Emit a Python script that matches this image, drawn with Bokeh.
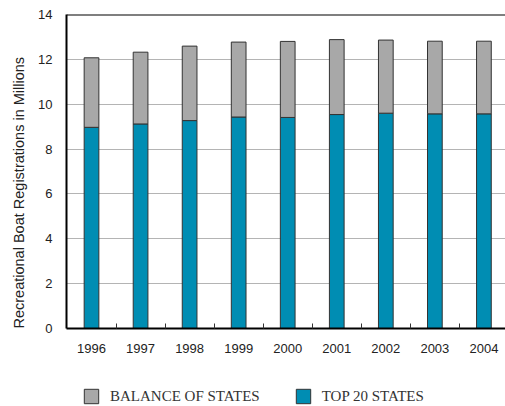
import math
from bokeh.plotting import figure
from bokeh.layouts import column
from bokeh.models import (ColumnDataSource, Range1d, FixedTicker, Legend, LegendItem,
                          Span, Title)
from bokeh.embed import file_html
from bokeh.resources import INLINE

years = [1996, 1997, 1998, 1999, 2000, 2001, 2002, 2003, 2004]
top20 = [8.97, 9.12, 9.27, 9.43, 9.41, 9.54, 9.60, 9.57, 9.57]
total = [12.07, 12.32, 12.59, 12.77, 12.80, 12.88, 12.86, 12.81, 12.81]
balance = [round(t - b, 2) for t, b in zip(total, top20)]
year_labels = [str(y) for y in years]
y_ticks = [0, 2, 4, 6, 8, 10, 12, 14]
series_names = ["TOP 20 STATES", "BALANCE OF STATES"]

BLUE = "#008db3"
GRAY = "#a8a8a8"
SANS = "Liberation Sans"

source = ColumnDataSource(dict(year=years, top20=top20, balance=balance))

p = figure(frame_width=439, frame_height=314, output_backend="svg", toolbar_location=None,
           x_range=Range1d(1995.49, 2004.44), y_range=Range1d(0, 14),
           min_border_left=66, min_border_top=14, min_border_right=0, min_border_bottom=30)

renderers = p.vbar_stack(["top20", "balance"], x="year", width=0.3, source=source,
                         fill_color=[BLUE, GRAY], line_color="#333333", line_width=1)

p.outline_line_color = None
p.background_fill_color = "white"
p.border_fill_color = "white"

# y axis
p.yaxis.ticker = FixedTicker(ticks=y_ticks)
p.yaxis.axis_line_color = "black"
p.yaxis.axis_line_width = 2
p.yaxis.major_tick_line_color = None
p.yaxis.minor_tick_line_color = None
p.yaxis.major_label_text_font = SANS
p.yaxis.major_label_text_font_size = "13px"
p.yaxis.major_label_text_color = "#222222"
p.yaxis.major_label_standoff = 8

# x axis
mids = [y + 0.5 for y in years[:-1]]
p.xaxis.ticker = FixedTicker(ticks=years, minor_ticks=mids)
p.xaxis.major_label_overrides = {y: l for y, l in zip(years, year_labels)}
p.xaxis.axis_line_color = "black"
p.xaxis.axis_line_width = 2
p.xaxis.major_tick_line_color = None
p.xaxis.minor_tick_line_color = "#333333"
p.xaxis.minor_tick_in = 5
p.xaxis.minor_tick_out = 0
p.xaxis.major_label_text_font = SANS
p.xaxis.major_label_text_font_size = "13px"
p.xaxis.major_label_text_color = "#222222"
p.xaxis.major_label_standoff = 9

p.xgrid.grid_line_color = None
p.ygrid.ticker = FixedTicker(ticks=y_ticks)
p.ygrid.grid_line_color = "#b4b4b4"
p.ygrid.grid_line_width = 1

p.add_layout(Span(location=14, dimension="width", line_color="black", line_width=2))

p.add_layout(Title(text="Recreational Boat Registrations in Millions", align="left",
                   offset=0, text_font=SANS, text_font_size="14.5px",
                   text_font_style="normal", text_color="#222222", standoff=17), "left")

# legend strip: same series drawn out of view, only the legend shows
p2 = figure(width=505, height=48, output_backend="svg", toolbar_location=None,
            x_range=p.x_range, y_range=Range1d(100, 101),
            x_axis_location=None, y_axis_location=None,
            min_border_left=0, min_border_right=0, min_border_top=0, min_border_bottom=0)
p2.outline_line_color = None
p2.xgrid.grid_line_color = None
p2.ygrid.grid_line_color = None
r2 = p2.vbar_stack(["top20", "balance"], x="year", width=0.3, source=source,
                   fill_color=[BLUE, GRAY], line_color="#333333", line_width=1)

legend = Legend(items=[LegendItem(label=series_names[1], renderers=[r2[1]]),
                       LegendItem(label=series_names[0], renderers=[r2[0]])],
                orientation="horizontal", location=(16, 1),
                glyph_width=18, glyph_height=18, label_standoff=10, spacing=34,
                margin=0, padding=0, border_line_color=None, background_fill_alpha=0,
                label_text_font="Liberation Serif", label_text_font_size="15px",
                label_text_color="#333333", label_height=18)
p2.add_layout(legend)

layout = column(p, p2, spacing=0)
open("out.html", "w").write(file_html(layout, INLINE))
